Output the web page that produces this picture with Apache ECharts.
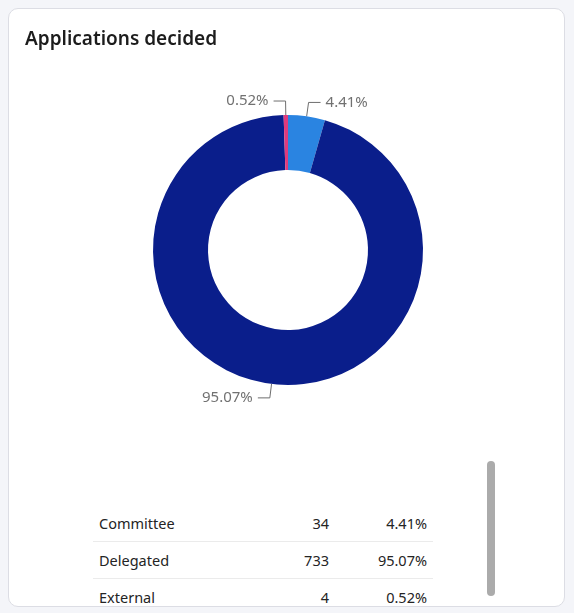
<!DOCTYPE html>
<html>
<head>
<meta charset="utf-8">
<script src="https://cdn.jsdelivr.net/npm/echarts@6/dist/echarts.min.js"></script>
<style>
  html, body { margin: 0; padding: 0; background: #f4f5f9; }
  body { width: 574px; height: 613px; position: relative; overflow: hidden; font-family: "Noto Sans", "Open Sans", sans-serif; }
  .card {
    position: absolute; left: 8px; top: 8px; width: 557px; height: 599px;
    background: #fff; border: 1px solid #dcdde4; border-radius: 10px; box-sizing: border-box;
  }
  #myCharts { position: absolute; left: 0; top: 0; width: 574px; height: 450px; }
  table.list {
    position: absolute; left: 93px; top: 505px; width: 340px; border-collapse: collapse;
    table-layout: fixed; font-size: 14.5px; color: #242424;
  }
  table.list td { height: 36px; padding: 0 6px; border-bottom: 1px solid #ebebeb; }
  table.list tr:last-child td { border-bottom: none; }
  table.list td.num { text-align: right; }
  .scroll {
    position: absolute; left: 487px; top: 461px; width: 8px; height: 135px;
    background: #ababab; border-radius: 4px;
  }
</style>
</head>
<body>
<div class="card"></div>
<div id="myCharts"></div>
<table class="list" id="list">
  <colgroup><col style="width:150px"><col style="width:92px"><col style="width:98px"></colgroup>
  <tbody id="rows"></tbody>
</table>
<div class="scroll"></div>
<script>
let dataName = ["Committee", "Delegated", "External"];
let dataList = [34, 733, 4];
let dataColor = ["#2a84e1", "#0a1e8b", "#e03a7d"];

let total = dataList.reduce((a, b) => a + b, 0);

let option = {
  title: {
    text: "Applications decided",
    left: 20,
    top: 25,
    textStyle: {
      fontFamily: "Noto Sans",
      fontSize: 19,
      fontWeight: 600,
      color: "#1c1c1c",
    },
  },
  series: [
    {
      type: "pie",
      center: [288, 250],
      radius: [80, 135],
      startAngle: 90,
      clockwise: true,
      percentPrecision: 2,
      avoidLabelOverlap: true,
      label: {
        show: true,
        formatter: "{d}%",
        color: "#717171",
        fontSize: 15,
        fontFamily: "Noto Sans",
      },
      labelLine: {
        show: true,
        length: 14,
        length2: 12,
        lineStyle: { color: "#6e6e6e", width: 1 },
      },
      itemStyle: { borderWidth: 0 },
      emphasis: { scale: false },
      data: dataName.map((n, i) => ({
        name: n,
        value: dataList[i],
        itemStyle: { color: dataColor[i] },
      })),
    },
  ],
};

let myChart = echarts.init(document.getElementById("myCharts"));
myChart.setOption(option);

let rows = dataName.map((n, i) =>
  "<tr><td>" + n + "</td><td class='num'>" + dataList[i] +
  "</td><td class='num'>" + (dataList[i] / total * 100).toFixed(2) + "%</td></tr>"
);
document.getElementById("rows").innerHTML = rows.join("");
</script>
</body>
</html>
